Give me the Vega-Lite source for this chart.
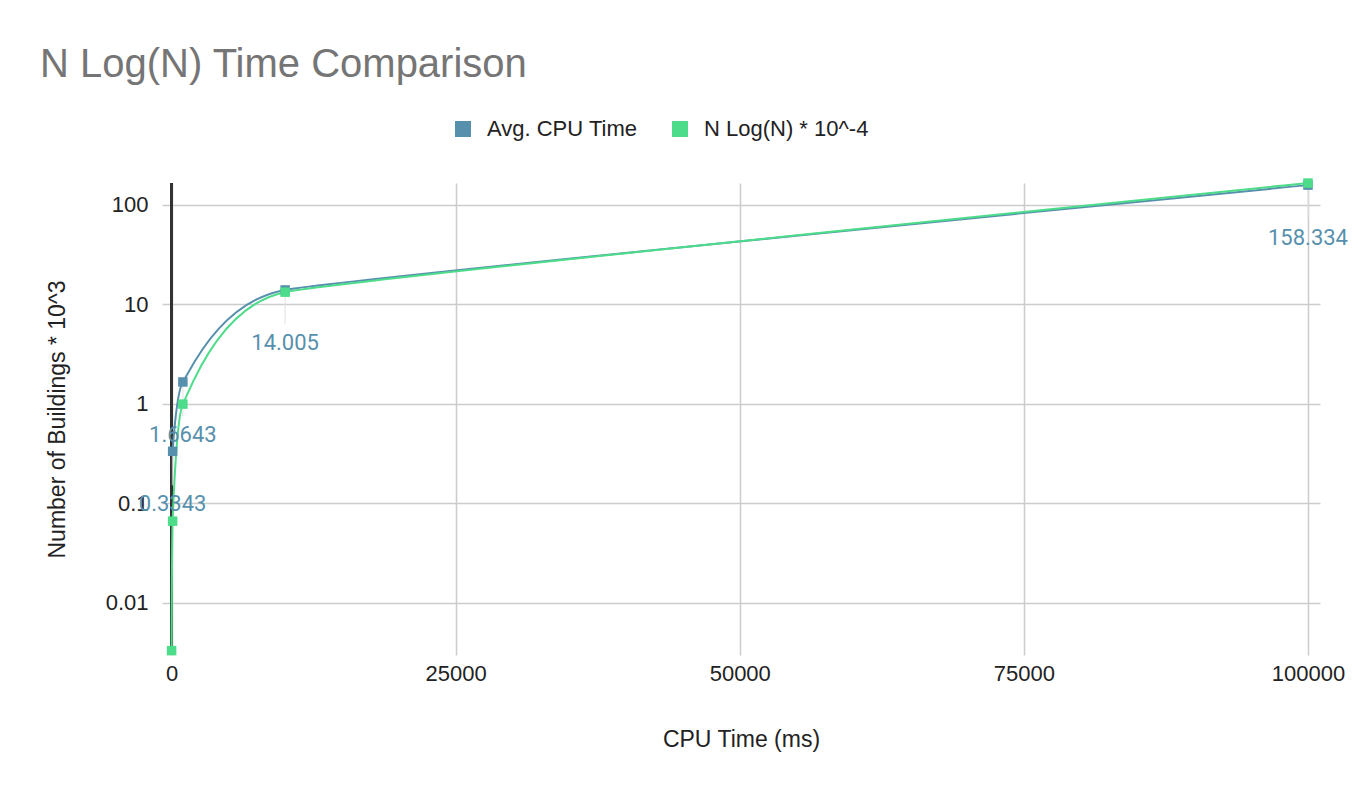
{
  "$schema": "https://vega.github.io/schema/vega-lite/v6.json",
  "width": 1158,
  "height": 472,
  "autosize": {"type": "none"},
  "padding": {"left": 162, "top": 183, "right": 38, "bottom": 139},
  "background": "white",
  "title": {
    "text": "N Log(N) Time Comparison",
    "anchor": "start",
    "frame": "group",
    "dx": -122,
    "offset": 33,
    "fontSize": 40,
    "font": "Liberation Sans",
    "fontWeight": "normal",
    "color": "#757575"
  },
  "config": {
    "view": {"stroke": null},
    "axis": {
      "labelFont": "Liberation Sans",
      "labelFontSize": 22,
      "labelColor": "#222222",
      "titleFont": "Liberation Sans",
      "titleFontSize": 23,
      "titleFontWeight": "normal",
      "titleColor": "#222222",
      "domain": false,
      "ticks": false,
      "tickSize": 0,
      "grid": true,
      "gridColor": "#cccccc",
      "gridWidth": 1.5
    }
  },
  "data": {
    "values": [
      {"n": 100, "series": "Avg. CPU Time", "value": 0.3343},
      {"n": 1000, "series": "Avg. CPU Time", "value": 1.6643},
      {"n": 10000, "series": "Avg. CPU Time", "value": 14.005},
      {"n": 100000, "series": "Avg. CPU Time", "value": 158.334},
      {"n": 10, "series": "N Log(N) * 10^-4", "value": 0.00332},
      {"n": 100, "series": "N Log(N) * 10^-4", "value": 0.0664},
      {"n": 1000, "series": "N Log(N) * 10^-4", "value": 0.997},
      {"n": 10000, "series": "N Log(N) * 10^-4", "value": 13.29},
      {"n": 100000, "series": "N Log(N) * 10^-4", "value": 166.1}
    ]
  },
  "encoding": {
    "x": {
      "field": "n",
      "type": "quantitative",
      "scale": {"domain": [-836, 101056], "nice": false, "zero": false},
      "axis": {
        "title": "CPU Time (ms)",
        "values": [0, 25000, 50000, 75000, 100000],
        "format": "d",
        "labelPadding": 8,
        "titlePadding": 44
      }
    },
    "y": {
      "field": "value",
      "type": "quantitative",
      "scale": {"type": "log", "domain": [0.003, 166.3], "nice": false},
      "axis": {
        "title": "Number of Buildings * 10^3",
        "values": [0.01, 0.1, 1, 10, 100],
        "format": "~g",
        "labelPadding": 14,
        "titlePadding": 36
      }
    },
    "color": {
      "field": "series",
      "type": "nominal",
      "scale": {
        "domain": ["Avg. CPU Time", "N Log(N) * 10^-4"],
        "range": ["#5790ad", "#4ddc8a"]
      },
      "legend": {
        "orient": "none",
        "legendX": 290,
        "legendY": -65,
        "direction": "horizontal",
        "title": null,
        "symbolType": "square",
        "symbolSize": 256,
        "symbolStrokeWidth": 0,
        "labelFont": "Liberation Sans",
        "labelFontSize": 22,
        "labelColor": "#222222",
        "labelLimit": 400,
        "labelOffset": 13,
        "columnPadding": 31,
        "padding": 0,
        "encode": {
          "symbols": {
            "update": {
              "fill": {"scale": "color", "field": "value"},
              "stroke": {"value": "transparent"},
              "opacity": {"value": 1}
            }
          }
        }
      }
    }
  },
  "layer": [
    {
      "mark": {"type": "rule", "color": "#333333", "strokeWidth": 2},
      "encoding": {"x": {"datum": 0}, "y": null, "color": null}
    },
    {
      "transform": [{"filter": "datum.series === 'Avg. CPU Time'"}],
      "mark": {"type": "tick", "orient": "vertical", "size": 30, "thickness": 1.5, "yOffset": 19, "color": "#e3e3e3"},
      "encoding": {"color": null}
    },
    {
      "mark": {"type": "line", "interpolate": "cardinal", "tension": 0.65, "strokeWidth": 2}
    },
    {
      "mark": {"type": "point", "shape": "square", "filled": true, "size": 90, "opacity": 1}
    },
    {
      "transform": [{"filter": "datum.series === 'Avg. CPU Time'"}],
      "mark": {"type": "text", "dy": 53, "font": "Roboto", "fontSize": 22, "color": "#5790ad"},
      "encoding": {
        "text": {"field": "value", "type": "quantitative", "format": "~g"},
        "color": null
      }
    }
  ]
}
